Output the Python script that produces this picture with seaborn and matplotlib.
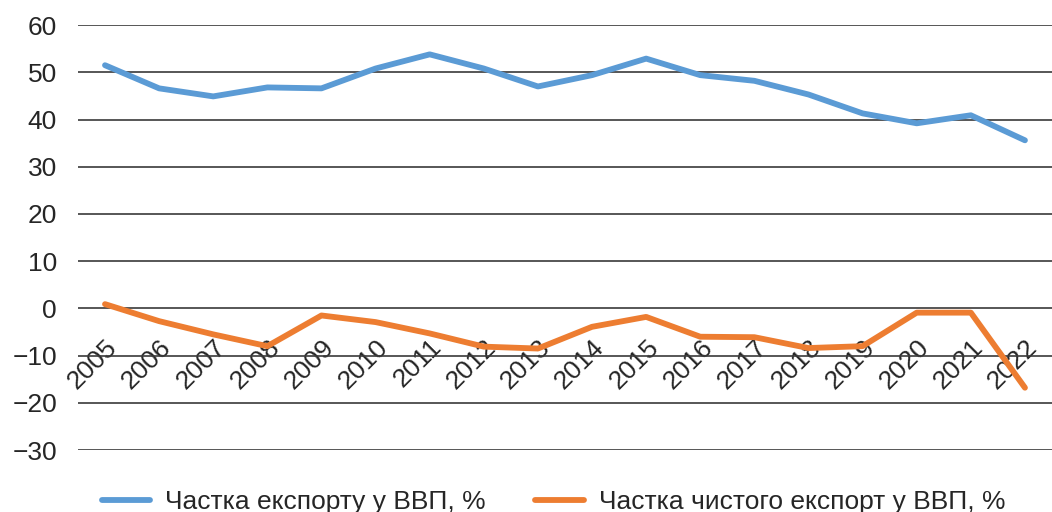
import pandas as pd
import matplotlib
matplotlib.use("Agg")
import matplotlib.pyplot as plt
import seaborn as sns

# Chart data
years = [str(y) for y in range(2005, 2023)]
export_share = [51.5, 46.6, 44.9, 46.8, 46.6, 50.8, 53.8, 50.8, 47.0,
                49.4, 52.9, 49.4, 48.2, 45.3, 41.3, 39.2, 40.9, 35.6]
net_export_share = [0.9, -2.7, -5.5, -8.0, -1.5, -2.9, -5.3, -8.1, -8.5,
                    -3.9, -1.8, -6.0, -6.1, -8.4, -8.0, -0.9, -0.9, -16.8]
series_names = ["Частка експорту у ВВП, %", "Частка чистого експорт у ВВП, %"]
yticks = [-30, -20, -10, 0, 10, 20, 30, 40, 50, 60]

df = pd.DataFrame({
    "year": years * 2,
    "value": export_share + net_export_share,
    "series": [series_names[0]] * len(years) + [series_names[1]] * len(years),
})

sns.set_style("white")
plt.rcParams["font.family"] = ["Liberation Sans", "DejaVu Sans"]
FS = 19
LW = 4.2

fig = plt.figure(figsize=(10.52, 5.12), dpi=100)
ax = fig.add_axes([0.0741, 0.121, 0.9259, 0.830])

sns.lineplot(data=df, x="year", y="value", hue="series", sort=False,
             palette=["#5B9BD5", "#ED7D31"], linewidth=LW, ax=ax,
             legend=False, zorder=3)

ax.set_ylim(-30, 60)
ax.set_xlim(-0.5, len(years) - 0.5)
ax.set_yticks(yticks)
ax.set_yticklabels([str(t).replace("-", "\u2212") for t in yticks], fontsize=FS)
ax.yaxis.grid(True, color="#3a3a3a", linewidth=1.2)
ax.set_axisbelow(True)

for side in ["left", "right", "top"]:
    ax.spines[side].set_visible(False)
ax.spines["bottom"].set_position(("data", 0))
ax.spines["bottom"].set_color("none")

ax.set_xticks(range(len(years)))
ax.set_xticklabels(years, rotation=45, ha="right", rotation_mode="anchor",
                   fontsize=FS)
ax.tick_params(axis="x", length=0, pad=19)
ax.tick_params(axis="y", length=0, pad=15)
ax.set_xlabel("")
ax.set_ylabel("")

handles = [plt.Line2D([], [], color="#5B9BD5", linewidth=LW),
           plt.Line2D([], [], color="#ED7D31", linewidth=LW)]
fig.legend(handles, series_names, loc="center", bbox_to_anchor=(0.526, 0.02),
           ncol=2, frameon=False, fontsize=FS, handlelength=1.82,
           handletextpad=0.57, columnspacing=1.9)

fig.savefig("out.png", dpi=100)
